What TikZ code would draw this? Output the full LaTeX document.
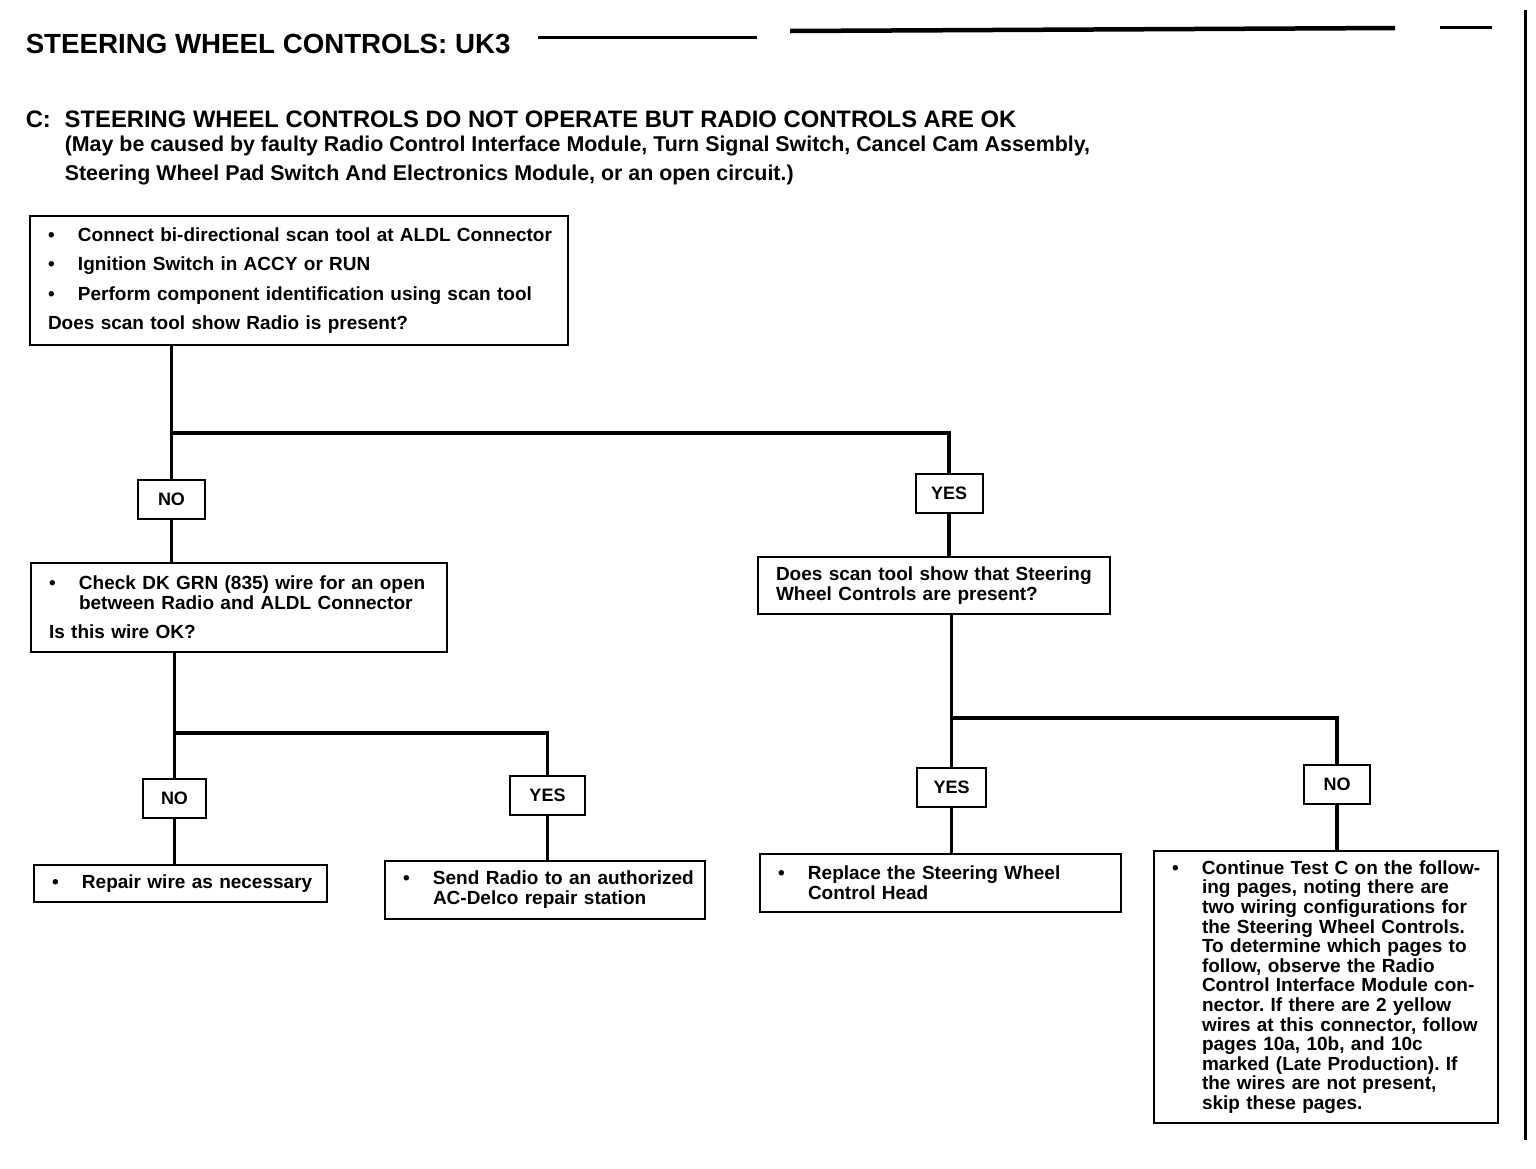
\documentclass[tikz,border=0pt]{standalone}
\usepackage{fontspec}
\setmainfont{Liberation Sans}
\frenchspacing
\newcommand{\bul}[1]{\mbox{\makebox[30pt][l]{\textbullet}#1}}
\newcommand{\hang}[1]{\mbox{\hspace*{30pt}#1}}
\newcommand{\lin}[1]{\mbox{#1}}
\begin{document}
\begin{tikzpicture}[x=1pt, y=-1pt, line width=3.5pt,
  box/.style = {draw, line width=2pt, anchor=north west, align=left, inner xsep=18pt, inner ysep=0pt, font=\fontsize{19}{20}\selectfont\bfseries},
  ans/.style = {draw, line width=2pt, minimum width=67pt, minimum height=39pt, inner sep=0pt, font=\fontsize{18}{20}\selectfont\bfseries},
  head/.style = {anchor=base west, inner sep=0pt}]
  \useasboundingbox (0,0) rectangle (1536,1168);
  % title and page rules
  \node[head, font=\fontsize{27.7}{30}\selectfont\bfseries] (title) at (24,53) {STEERING WHEEL CONTROLS: UK3};
  \draw[line width=3pt] (538,37) -- (757,37);
  \draw[line width=4.5pt] (790,31) -- (1395,28);
  \draw[line width=3pt] (1440,27) -- (1492,27);
  \draw[line width=3pt] (1525,10) -- (1525,1140);
  \node[head, font=\fontsize{23.8}{26}\selectfont\bfseries] (test) at (24,127) {\makebox[39pt][l]{C:}STEERING WHEEL CONTROLS DO NOT OPERATE BUT RADIO CONTROLS ARE OK};
  \node[head, font=\fontsize{21.4}{22}\selectfont\bfseries] (cause1) at (63,151) {(May be caused by faulty Radio Control Interface Module, Turn Signal Switch, Cancel Cam Assembly,};
  \node[head, font=\fontsize{21.4}{22}\selectfont\bfseries] (cause2) at (63,180) {Steering Wheel Pad Switch And Electronics Module, or an open circuit.)};
  % question and action boxes
  \node[box, text width=502pt, minimum height=129pt] (scan) at (29,215) {\bul{Connect bi-directional scan tool at ALDL Connector}\\[9.5pt]
    \bul{Ignition Switch in ACCY or RUN}\\[9.5pt]
    \bul{Perform component identification using scan tool}\\[9.5pt]
    \lin{Does scan tool show Radio is present?}};
  \node[box, text width=380pt, minimum height=89pt] (wire) at (30,562) {\bul{Check DK GRN (835) wire for an open}\\
    \hang{between Radio and ALDL Connector}\\[9pt]
    \lin{Is this wire OK?}};
  \node[box, text width=316pt, minimum height=57pt] (swc) at (757,556) {\lin{Does scan tool show that Steering}\\
    \lin{Wheel Controls are present?}};
  \node[box, text width=257pt, minimum height=37pt] (repair) at (33,864) {\bul{Repair wire as necessary}};
  \node[box, text width=284pt, minimum height=58pt] (send) at (384,860) {\bul{Send Radio to an authorized}\\
    \hang{AC-Delco repair station}};
  \node[box, text width=325pt, minimum height=58pt] (head) at (759,853) {\bul{Replace the Steering Wheel}\\
    \hang{Control Head}};
  \node[box, text width=308pt, minimum height=272pt, font=\fontsize{19}{19.6}\selectfont\bfseries] (cont) at (1153,850) {\bul{Continue Test C on the follow-}\\
    \hang{ing pages, noting there are}\\
    \hang{two wiring configurations for}\\
    \hang{the Steering Wheel Controls.}\\
    \hang{To determine which pages to}\\
    \hang{follow, observe the Radio}\\
    \hang{Control Interface Module con-}\\
    \hang{nector. If there are 2 yellow}\\
    \hang{wires at this connector, follow}\\
    \hang{pages 10a, 10b, and 10c}\\
    \hang{marked (Late Production). If}\\
    \hang{the wires are not present,}\\
    \hang{skip these pages.}};
  % answers
  \node[ans] (no1) at (171.5,499.5) {NO};
  \node[ans] (yes1) at (949,493.5) {YES};
  \node[ans, minimum width=63pt] (no2) at (174.5,798) {NO};
  \node[ans, minimum width=75pt] (yes2) at (547.5,795) {YES};
  \node[ans, minimum width=69pt] (yes3) at (951.5,787) {YES};
  \node[ans, minimum width=66pt] (no3) at (1337,784) {NO};
  \coordinate (f1) at (171.5,433);
  \coordinate (f2) at (174.5,733);
  \coordinate (f3) at (951.5,718);
  % connectors
  \draw (no1.north |- scan.south) to (no1.north);
  \draw (f1) -| (yes1.north);
  \draw (no1.south) to (no1.south |- wire.north);
  \draw (yes1.south) to (yes1.south |- swc.north);
  \draw (no2.north |- wire.south) to (no2.north);
  \draw (f2) -| (yes2.north);
  \draw (no2.south) to (no2.south |- repair.north);
  \draw (yes2.south) to (yes2.south |- send.north);
  \draw (yes3.north |- swc.south) to (yes3.north);
  \draw (f3) -| (no3.north);
  \draw (yes3.south) to (yes3.south |- head.north);
  \draw (no3.south) to (no3.south |- cont.north);
\end{tikzpicture}
\end{document}
